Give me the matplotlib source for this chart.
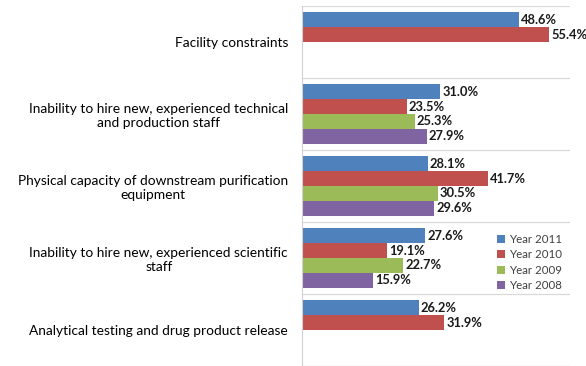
import numpy as np
import matplotlib.pyplot as plt

categories = [
    "Facility constraints",
    "Inability to hire new, experienced technical\nand production staff",
    "Physical capacity of downstream purification\nequipment",
    "Inability to hire new, experienced scientific\nstaff",
    "Analytical testing and drug product release",
]
series_names = ["Year 2011", "Year 2010", "Year 2009", "Year 2008"]
year_2011 = [48.6, 31.0, 28.1, 27.6, 26.2]
year_2010 = [55.4, 23.5, 41.7, 19.1, 31.9]
year_2009 = [np.nan, 25.3, 30.5, 22.7, np.nan]
year_2008 = [np.nan, 27.9, 29.6, 15.9, np.nan]
colors = ["#4F81BD", "#C0504D", "#9BBB59", "#8064A2"]

plt.rcParams["font.family"] = ["Lato", "DejaVu Sans"]

fig = plt.figure(figsize=(5.86, 3.66), dpi=100)
ax = fig.add_axes([302 / 586, 0.0, (570 - 302) / 586, 1 - 6 / 366])

y = np.arange(len(categories))
bar_h = 0.2083
all_series = [year_2011, year_2010, year_2009, year_2008]

for j, (vals, name, col) in enumerate(zip(all_series, series_names, colors)):
    pos = y - 2 * bar_h + (j + 0.5) * bar_h
    vals = np.array(vals, dtype=float)
    ax.barh(pos, np.nan_to_num(vals), height=bar_h, color=col, label=name)
    for p, v in zip(pos, vals):
        if not np.isnan(v):
            ax.text(v + 0.4, p, f"{v:.1f}%", va="center", ha="left",
                    fontsize=9.3, fontweight="bold", color="#1a1a1a")

ax.set_xlim(0, 60)
ax.set_ylim(len(categories) - 0.5, -0.5)
ax.set_xticks([])
ax.set_yticks(y)
ax.set_yticklabels(categories, fontsize=9.9, multialignment="center")
ax.tick_params(axis="y", length=0, pad=10)
ax.set_yticks(np.arange(-0.5, len(categories), 1), minor=True)
ax.tick_params(axis="y", which="minor", length=0)
ax.grid(axis="y", which="minor", color="#d9d9d9", linewidth=0.9)
ax.set_axisbelow(True)

for s in ["top", "right", "bottom"]:
    ax.spines[s].set_visible(False)
ax.spines["left"].set_color("#d0d0d0")

fig.legend(loc="upper left", bbox_to_anchor=(492 / 586, 1 - 229 / 366),
           frameon=False, fontsize=8.3, handlelength=0.7, handleheight=0.7,
           handletextpad=0.4, labelspacing=0.4, labelcolor="#404040",
           borderaxespad=0)

fig.savefig("out.png", dpi=100)
